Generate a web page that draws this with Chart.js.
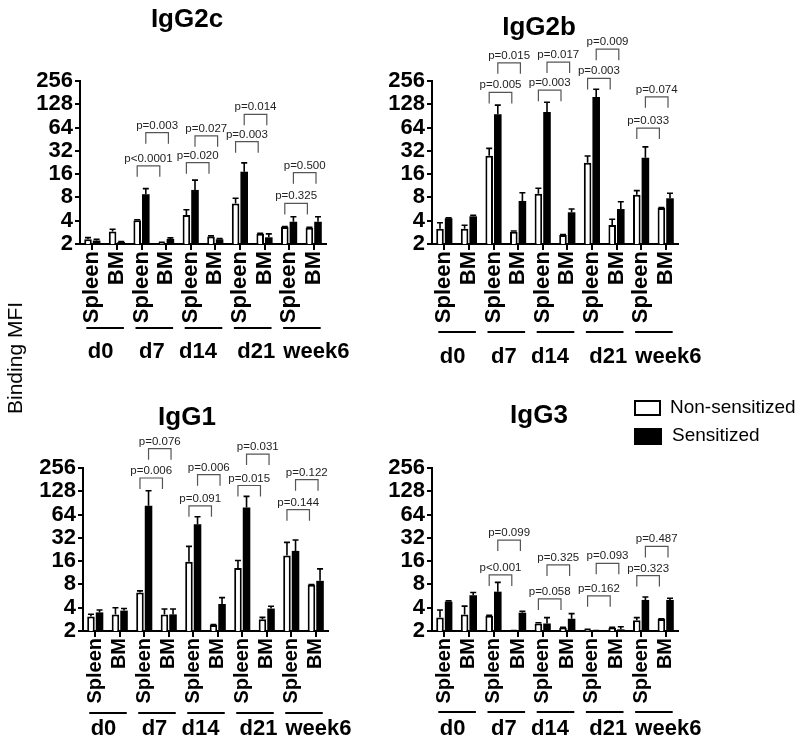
<!DOCTYPE html>
<html>
<head>
<meta charset="utf-8">
<script src="https://cdn.jsdelivr.net/npm/chart.js@4/dist/chart.umd.min.js"></script>
<style>
  body { margin: 0; background: #fff; font-family: "Liberation Sans", Arial, sans-serif; }
  #wrap { position: relative; width: 800px; height: 746px; overflow: hidden; }
  #wrap canvas { position: absolute; }
  .ytitle { position: absolute; left: 15px; top: 358px; transform: translate(-50%, -50%) rotate(-90deg);
            font-size: 21px; white-space: nowrap; color: #000; }
  .box { position: absolute; box-sizing: border-box; }
  .keytxt { position: absolute; font-size: 19px; line-height: 20px; white-space: nowrap; color: #000; }
</style>
</head>
<body>
<div id="wrap">
  <canvas id="c1" width="400" height="370" style="left:0;top:0"></canvas>
  <canvas id="c2" width="448" height="370" style="left:352px;top:0"></canvas>
  <canvas id="c3" width="400" height="376" style="left:0;top:370px"></canvas>
  <canvas id="c4" width="448" height="376" style="left:352px;top:370px"></canvas>
  <div class="ytitle">Binding MFI</div>
  <div class="box" style="left:634px;top:400px;width:27px;height:16px;border:2px solid #000;background:#fff"></div>
  <div class="keytxt" style="left:670px;top:397px">Non-sensitized</div>
  <div class="box" style="left:634px;top:428px;width:28px;height:17px;background:#000"></div>
  <div class="keytxt" style="left:672px;top:425px">Sensitized</div>
</div>
<script>
const categories = ["Spleen", "BM", "Spleen", "BM", "Spleen", "BM", "Spleen", "BM", "Spleen", "BM"];
const groups = ["d0", "d7", "d14", "d21", "week6"];
const yTicks = [2, 4, 8, 16, 32, 64, 128, 256];

// IgG2c
const igg2cNonSens    = [2.3, 2.9, 4.05, 2.08, 4.75, 2.5, 6.7, 2.72, 3.32, 3.25];
const igg2cNonSensSem = [0.12, 0.2, 0.07, 0.02, 0.8, 0.05, 1.1, 0.04, 0.04, 0.05];
const igg2cSens       = [2.22, 2.12, 8.8, 2.32, 10.0, 2.3, 17.2, 2.44, 3.88, 3.88];
const igg2cSensSem    = [0.08, 0.03, 1.6, 0.08, 3.4, 0.05, 5.2, 0.26, 0.62, 0.62];
const igg2cPLow   = ["p<0.0001", "p=0.020", "p=0.003", "p=0.325"];
const igg2cPLowY  = [20.5, 22.5, 42, 6.7];
const igg2cPHigh  = ["p=0.003", "p=0.027", "p=0.014", "p=0.500"];
const igg2cPHighY = [55, 50, 95, 16.7];

// IgG2b
const igg2bNonSens    = [3.15, 3.15, 27.7, 2.88, 8.9, 2.61, 22.5, 3.52, 8.67, 5.84];
const igg2bNonSensSem = [0.62, 0.35, 6.8, 0.07, 1.6, 0.04, 4.9, 0.65, 1.13, 0.06];
const igg2bSens       = [4.3, 4.56, 95, 7.2, 102, 5.14, 159, 5.66, 26, 7.8];
const igg2bSensSem    = [0.05, 0.14, 30, 2.0, 34, 0.52, 41, 1.38, 10, 1.25];
const igg2bPLow   = ["p=0.005", "p=0.003", "p=0.003", "p=0.033"];
const igg2bPLowY  = [182, 195, 276, 63];
const igg2bPHigh  = ["p=0.015", "p=0.017", "p=0.009", "p=0.074"];
const igg2bPHighY = [440, 450, 660, 160];

// IgG1
const igg1NonSens    = [3.07, 3.28, 6.28, 3.28, 15.7, 2.39, 13.0, 2.83, 18.9, 7.9];
const igg1NonSensSem = [0.23, 0.72, 0.32, 0.57, 9.1, 0.03, 3.3, 0.17, 9.1, 0.05];
const igg1Sens       = [3.48, 3.67, 83, 3.28, 48, 4.47, 79, 3.9, 21.7, 8.9];
const igg1SensSem    = [0.26, 0.23, 47, 0.57, 12, 0.93, 31, 0.27, 8.3, 3.8];
const igg1PLow   = ["p=0.006", "p=0.091", "p=0.015", "p=0.144"];
const igg1PLowY  = [190, 83, 152, 74];
const igg1PHigh  = ["p=0.076", "p=0.006", "p=0.031", "p=0.122"];
const igg1PHighY = [455, 210, 388, 181];

// IgG3
const igg3NonSens    = [2.98, 3.28, 3.16, 2.02, 2.5, 2.2, 2.08, 2.2, 2.75, 2.86];
const igg3NonSensSem = [0.76, 0.92, 0.04, 0.01, 0.06, 0.04, 0.02, 0.04, 0.23, 0.02];
const igg3Sens       = [4.79, 5.8, 6.45, 3.45, 2.5, 2.88, 2.02, 2.1, 5.04, 5.04];
const igg3SensSem    = [0.11, 0.5, 2.05, 0.15, 0.48, 0.47, 0.01, 0.17, 0.46, 0.26];
const igg3PLow   = ["p<0.001", "p=0.058", "p=0.162", "p=0.323"];
const igg3PLowY  = [10.6, 5.2, 5.7, 10.4];
const igg3PHigh  = ["p=0.099", "p=0.325", "p=0.093", "p=0.487"];
const igg3PHighY = [30, 14.3, 15, 24.8];

const FONT = "'Liberation Sans', Arial, sans-serif";
const labelShift = [-4, -2, -5, 4, 15];

const panels = [
  { id: "c1", title: "IgG2c", ns: igg2cNonSens, nsSem: igg2cNonSensSem, s: igg2cSens, sSem: igg2cSensSem,
    pLow: igg2cPLow, pLowY: igg2cPLowY, pHigh: igg2cPHigh, pHighY: igg2cPHighY,
    w: 400, h: 370, area: { l: 80, r: 326, t: 81, b: 244 }, titleY: 27, lineY: 84, labelY: 108, catFont: 22 },
  { id: "c2", title: "IgG2b", ns: igg2bNonSens, nsSem: igg2bNonSensSem, s: igg2bSens, sSem: igg2bSensSem,
    pLow: igg2bPLow, pLowY: igg2bPLowY, pHigh: igg2bPHigh, pHighY: igg2bPHighY,
    w: 448, h: 370, area: { l: 80, r: 326, t: 81, b: 244 }, titleY: 35, lineY: 88, labelY: 113, catFont: 22 },
  { id: "c3", title: "IgG1", ns: igg1NonSens, nsSem: igg1NonSensSem, s: igg1Sens, sSem: igg1SensSem,
    pLow: igg1PLow, pLowY: igg1PLowY, pHigh: igg1PHigh, pHighY: igg1PHighY,
    w: 400, h: 376, area: { l: 83, r: 328, t: 98, b: 261 }, titleY: 55, lineY: 82, labelY: 98, catFont: 20 },
  { id: "c4", title: "IgG3", ns: igg3NonSens, nsSem: igg3NonSensSem, s: igg3Sens, sSem: igg3SensSem,
    pLow: igg3PLow, pLowY: igg3PLowY, pHigh: igg3PHigh, pHighY: igg3PHighY,
    w: 448, h: 376, area: { l: 80, r: 326, t: 98, b: 261 }, titleY: 53, lineY: 81, labelY: 98, catFont: 20 }
];

function drawBracket(ctx, x1, x2, y, txt) {
  ctx.strokeStyle = "#555";
  ctx.lineWidth = 1.2;
  ctx.beginPath();
  ctx.moveTo(x1, y + 11);
  ctx.lineTo(x1, y);
  ctx.lineTo(x2, y);
  ctx.lineTo(x2, y + 11);
  ctx.stroke();
  ctx.fillStyle = "#222";
  ctx.font = "11.5px " + FONT;
  ctx.textAlign = "center";
  ctx.textBaseline = "alphabetic";
  ctx.fillText(txt, (x1 + x2) / 2, y - 4);
}

function makeOverlay(p) {
  return {
    id: "overlay",
    afterDatasetsDraw(chart) {
      const ctx = chart.ctx, ys = chart.scales.y;
      const sems = [p.nsSem, p.sSem];
      ctx.save();
      ctx.strokeStyle = "#000";
      ctx.lineWidth = 1.6;
      chart.data.datasets.forEach((ds, di) => {
        chart.getDatasetMeta(di).data.forEach((bar, i) => {
          const top = ys.getPixelForValue(ds.data[i] + sems[di][i]);
          ctx.beginPath();
          ctx.moveTo(bar.x, bar.y);
          ctx.lineTo(bar.x, top);
          ctx.moveTo(bar.x - 3, top);
          ctx.lineTo(bar.x + 3, top);
          ctx.stroke();
        });
      });
      ctx.restore();
    },
    afterDraw(chart) {
      const ctx = chart.ctx, xs = chart.scales.x, ys = chart.scales.y;
      const bottom = chart.chartArea.bottom;
      const nsMeta = chart.getDatasetMeta(0), sMeta = chart.getDatasetMeta(1);
      ctx.save();
      // title
      ctx.fillStyle = "#000";
      ctx.font = "bold 26px " + FONT;
      ctx.textAlign = "center";
      ctx.textBaseline = "alphabetic";
      ctx.fillText(p.title, 187, p.titleY);
      // group lines and labels
      groups.forEach((g, k) => {
        const xa = xs.getPixelForValue(2 * k), xb = xs.getPixelForValue(2 * k + 1);
        ctx.strokeStyle = "#000";
        ctx.lineWidth = 2;
        ctx.beginPath();
        ctx.moveTo(xa - 6, bottom + p.lineY);
        ctx.lineTo(xb + 7, bottom + p.lineY);
        ctx.stroke();
        ctx.fillStyle = "#000";
        ctx.font = "bold 22px " + FONT;
        ctx.textAlign = "center";
        ctx.textBaseline = "middle";
        ctx.fillText(g, (xa + xb) / 2 + labelShift[k], bottom + p.labelY);
      });
      // significance brackets (d7, d14, d21, week6)
      p.pLow.forEach((txt, k) => {
        const g = k + 1;
        drawBracket(ctx, nsMeta.data[2 * g].x, nsMeta.data[2 * g + 1].x - 2, ys.getPixelForValue(p.pLowY[k]), txt);
      });
      p.pHigh.forEach((txt, k) => {
        const g = k + 1;
        drawBracket(ctx, sMeta.data[2 * g].x, sMeta.data[2 * g + 1].x - 2, ys.getPixelForValue(p.pHighY[k]), txt);
      });
      ctx.restore();
    }
  };
}

panels.forEach(p => {
  new Chart(document.getElementById(p.id), {
    type: "bar",
    data: {
      labels: categories,
      datasets: [
        { label: "Non-sensitized", data: p.ns, backgroundColor: "#fff", borderColor: "#000", borderWidth: 2 },
        { label: "Sensitized", data: p.s, backgroundColor: "#000", borderColor: "#000", borderWidth: 0 }
      ]
    },
    options: {
      responsive: false,
      animation: false,
      events: [],
      categoryPercentage: 0.7,
      barPercentage: 0.88,
      layout: { padding: { left: 0, top: p.area.t, right: p.w - p.area.r, bottom: 0 } },
      plugins: { legend: { display: false }, tooltip: { enabled: false } },
      scales: {
        x: {
          grid: { offset: false, drawOnChartArea: false, drawTicks: true, tickLength: 6, color: "#000", lineWidth: 2 },
          border: { display: true, color: "#000", width: 2 },
          ticks: { autoSkip: false, minRotation: 90, maxRotation: 90, padding: 1, color: "#000",
                   font: { family: FONT, size: p.catFont, weight: "bold" } },
          afterFit(s) { s.height = p.h - p.area.b; }
        },
        y: {
          type: "logarithmic",
          min: 2,
          max: 256,
          grid: { drawOnChartArea: false, drawTicks: true, tickLength: 5, color: "#000", lineWidth: 2 },
          border: { display: true, color: "#000", width: 2 },
          afterBuildTicks(s) { s.ticks = yTicks.map(v => ({ value: v })); },
          ticks: { autoSkip: false, padding: 2, color: "#000", font: { family: FONT, size: 22, weight: "bold" },
                   callback: v => String(v) },
          afterFit(s) { s.width = p.area.l; }
        }
      }
    },
    plugins: [makeOverlay(p)]
  });
});
</script>
</body>
</html>
